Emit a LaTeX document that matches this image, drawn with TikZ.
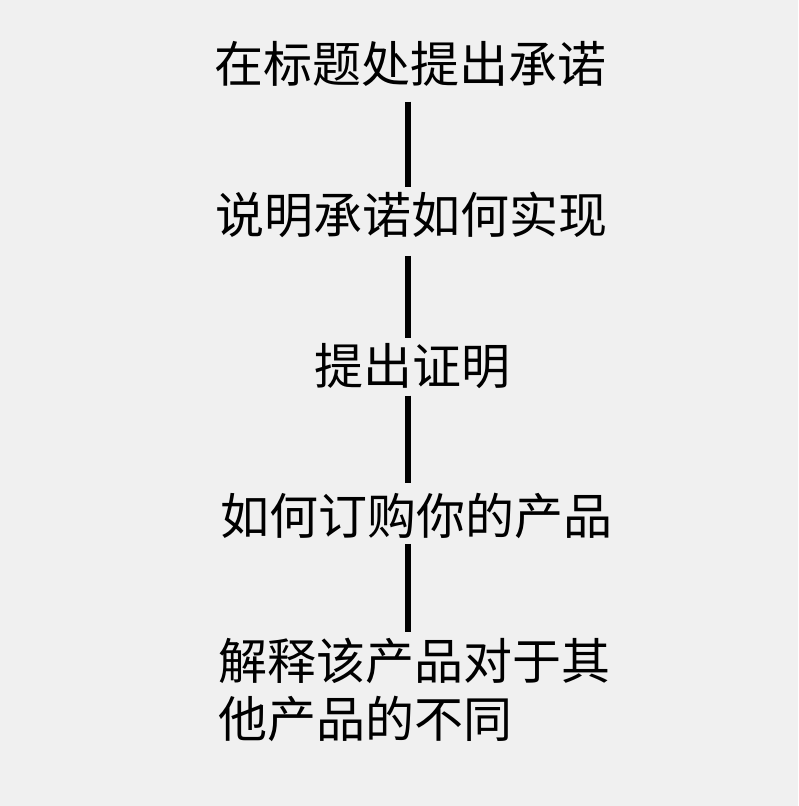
\documentclass[tikz,border=0pt]{standalone}
\usepackage{fontspec}
\newfontfamily\cjk{Noto Sans CJK SC}
\usetikzlibrary{calc}
\definecolor{bg}{HTML}{F0F0F0}
\begin{document}
\begin{tikzpicture}[x=1pt,y=-1pt,
  txt/.style={font=\cjk\fontsize{49}{58}\selectfont, inner sep=0pt, outer sep=0pt, text=black},
  conn/.style={line width=6pt, draw=black}]
\fill[bg] (0,0) rectangle (798,806);
\useasboundingbox (0,0) rectangle (798,806);
\coordinate (axis) at (408,0);
\node[txt] (t1) at (410,64) {在标题处提出承诺};
\node[txt] (t2) at (411,215) {说明承诺如何实现};
\node[txt] (t3) at (412,366) {提出证明};
\node[txt] (t4) at (416,516) {如何订购你的产品};
\node[txt, anchor=north west, align=left] (t5) at (218,638) {解释该产品对于其\\他产品的不同};
\draw[conn] ($(t1.south -| axis)+(0,15)$) -- ($(t2.north -| axis)+(0,-5)$);
\draw[conn] ($(t2.south -| axis)+(0,18)$) -- ($(t3.north -| axis)+(0,-5)$);
\draw[conn] ($(t3.south -| axis)+(0,7)$) -- ($(t4.north -| axis)+(0,-10)$);
\draw[conn] ($(t4.south -| axis)+(0,5)$) -- ($(t5.north -| axis)+(0,-6)$);
\end{tikzpicture}
\end{document}
